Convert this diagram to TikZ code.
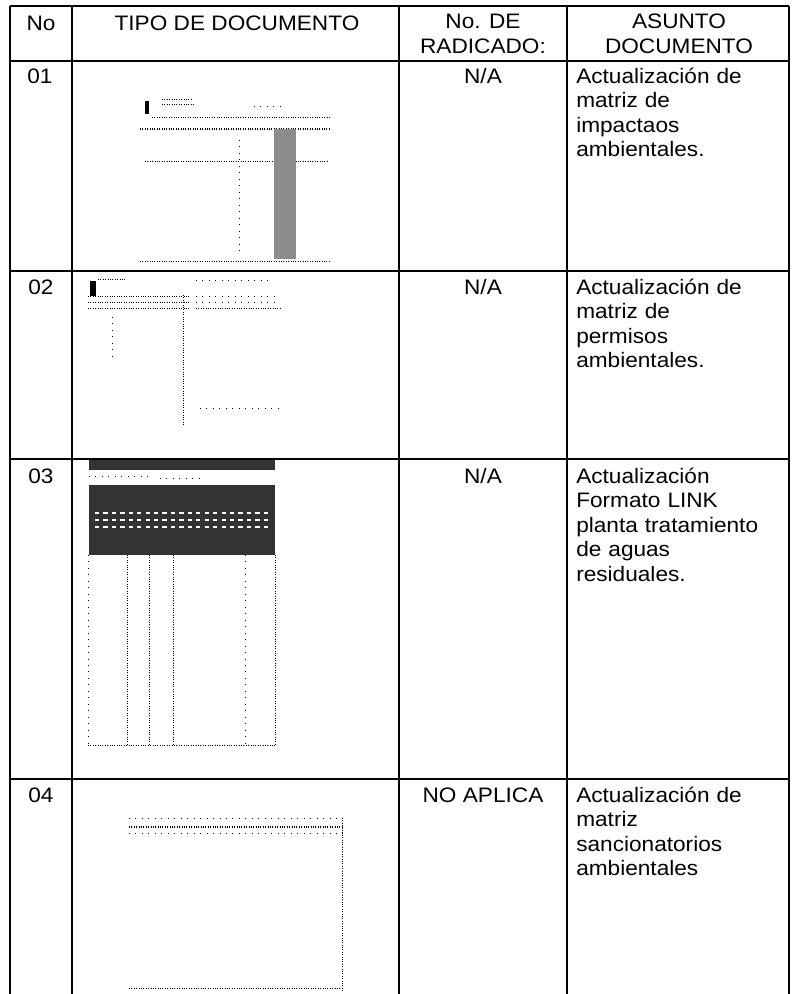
\documentclass[tikz,border=0pt]{standalone}
\usepackage{fontspec}
\setmainfont{Liberation Sans}[FakeStretch=1.08]
\tikzset{
  rule/.style={line width=0.9pt},
  label/.style={inner sep=0pt, font=\fontsize{14.9}{17.5}\selectfont},
  subject/.style={label, anchor=base west, align=left, text width=7cm},
  scan/.style={line width=0.7pt, densely dotted},
  sparse/.style={line width=0.6pt, loosely dotted},
}
\begin{document}
\begin{tikzpicture}[x=0.025cm, y=-0.025cm]
\useasboundingbox (0,0) rectangle (792,994);
\draw[rule] (10,6) -- (789,6);
\draw[rule] (10,61) -- (789,61);
\draw[rule] (10,271) -- (789,271);
\draw[rule] (10,459) -- (789,459);
\draw[rule] (10,779) -- (789,779);
\draw[rule] (10,6) -- (10,994);
\draw[rule] (72,6) -- (72,994);
\draw[rule] (399,6) -- (399,994);
\draw[rule] (567,6) -- (567,994);
\draw[rule] (789,6) -- (789,994);
\node[label, anchor=base] (hno) at (41,30) {No};
\node[label, anchor=base] (htipo) at (237,30) {TIPO DE DOCUMENTO};
\node[label, anchor=base, align=center] (hrad) at (483,53) {No. DE\\RADICADO:};
\node[label, anchor=base, align=center] (hasunto) at (679,53) {ASUNTO\\DOCUMENTO};
\node[label, anchor=base] (n1) at (40,83) {01};
\node[label, anchor=base] (n2) at (41,294) {02};
\node[label, anchor=base] (n3) at (41,483) {03};
\node[label, anchor=base] (n4) at (41,802) {04};
\node[label, anchor=base] (r1) at (483,83) {N/A};
\node[label, anchor=base] (r2) at (483,294) {N/A};
\node[label, anchor=base] (r3) at (483,483) {N/A};
\node[label, anchor=base] (r4) at (483,802) {NO APLICA};
\node[subject] (a1) at (576,83) {Actualización de\\matriz de\\impactaos\\ambientales.};
\node[subject] (a2) at (576,294) {Actualización de\\matriz de\\permisos\\ambientales.};
\node[subject] (a3) at (576,483) {Actualización\\Formato LINK\\planta tratamiento\\de aguas\\residuales.};
\node[subject] (a4) at (576,802) {Actualización de\\matriz\\sancionatorios\\ambientales};
\fill (145,101) rectangle (149,114);
\draw[scan] (162,99) -- (192,99);
\draw[scan] (162,104) -- (195,104);
\draw[sparse] (254,106) -- (284,106);
\draw[scan] (152,117) -- (329,117);
\draw[scan, line width=1pt] (140,129) -- (329,129);
\draw[scan] (145,161) -- (329,161);
\draw[sparse] (239,140) -- (239,255);
\fill[black!45] (274,129) rectangle (296,259);
\draw[scan] (140,261) -- (329,261);
\fill (90,281) rectangle (96,296);
\draw[scan] (98,279) -- (125,279);
\draw[sparse] (196,280) -- (270,280);
\draw[scan] (88,296) -- (190,296);
\draw[scan] (88,302) -- (190,302);
\draw[scan] (88,308) -- (190,308);
\draw[sparse] (196,296) -- (280,296);
\draw[sparse] (196,302) -- (280,302);
\draw[scan] (196,308) -- (280,308);
\draw[sparse] (112,317) -- (112,359);
\draw[scan] (183,295) -- (183,425);
\draw[sparse] (200,408) -- (280,408);
\fill[black!80] (89,460) rectangle (275,470);
\draw[sparse] (89,476) -- (150,476);
\draw[sparse] (160,478) -- (200,478);
\fill[black!80] (89,485) rectangle (275,555);
\draw[white, dashed, line width=1.2pt] (95,513) -- (270,513);
\draw[white, dashed, line width=1.2pt] (95,520) -- (270,520);
\draw[white, dashed, line width=1.2pt] (95,527) -- (270,527);
\draw[sparse] (88,555) -- (88,745);
\draw[scan] (127,555) -- (127,745);
\draw[scan] (149,555) -- (149,745);
\draw[scan] (173,555) -- (173,745);
\draw[sparse] (245,555) -- (245,745);
\draw[scan] (275,555) -- (275,745);
\draw[scan] (88,745) -- (275,745);
\draw[sparse] (129,818) -- (344,818);
\draw[scan, line width=1pt] (129,827) -- (344,827);
\draw[sparse] (129,833) -- (344,833);
\draw[scan] (342,818) -- (342,992);
\draw[scan] (129,988) -- (342,988);
\end{tikzpicture}
\end{document}
